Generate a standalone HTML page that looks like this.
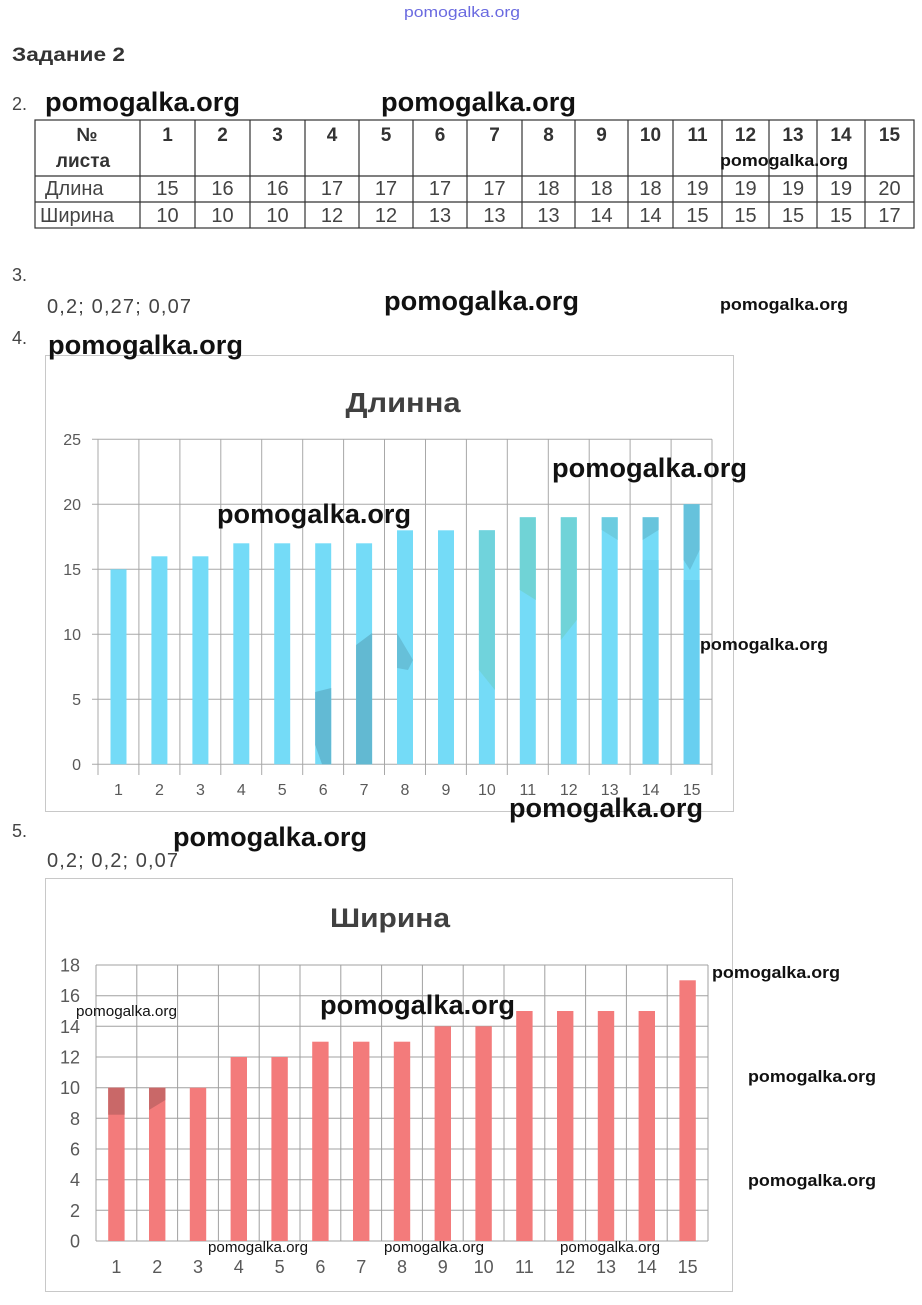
<!DOCTYPE html>
<html><head><meta charset="utf-8"><style>
html,body{margin:0;padding:0;background:#fff;}
svg{display:block;}
.wm{font-family:"Liberation Sans","DejaVu Sans",sans-serif;font-weight:bold;fill:#111;}
.wms{font-family:"Liberation Sans","DejaVu Sans",sans-serif;fill:#111;}
.t{font-family:"Liberation Sans",sans-serif;fill:#444;}
.tb{font-family:"Liberation Sans",sans-serif;font-weight:bold;fill:#333;}
.ax{font-family:"Liberation Sans",sans-serif;fill:#595959;}
.ti{font-family:"Liberation Sans","DejaVu Sans",sans-serif;font-weight:bold;fill:#404040;}
</style></head><body>
<svg width="922" height="1305" viewBox="0 0 922 1305" xmlns="http://www.w3.org/2000/svg">
<rect width="922" height="1305" fill="#fff"/>
<text x="404" y="17" font-family="Liberation Sans, sans-serif" font-size="15" fill="#6a6ae0" textLength="116" lengthAdjust="spacingAndGlyphs">pomogalka.org</text>
<text class="tb" x="12" y="61" font-size="19" textLength="113" lengthAdjust="spacingAndGlyphs">Задание 2</text>

<text class="t" x="12" y="110" font-size="18">2.</text>
<text class="wm" x="45" y="111" font-size="27" textLength="195" lengthAdjust="spacingAndGlyphs">pomogalka.org</text>
<text class="wm" x="381" y="111" font-size="27" textLength="195" lengthAdjust="spacingAndGlyphs">pomogalka.org</text>

<g stroke="#333" stroke-width="1.2" fill="none">
<rect x="35" y="120" width="879" height="108"/>
<line x1="35" y1="176" x2="914" y2="176"/>
<line x1="35" y1="202" x2="914" y2="202"/>
<line x1="140" y1="120" x2="140" y2="228"/>
<line x1="195" y1="120" x2="195" y2="228"/>
<line x1="250" y1="120" x2="250" y2="228"/>
<line x1="305" y1="120" x2="305" y2="228"/>
<line x1="359" y1="120" x2="359" y2="228"/>
<line x1="413" y1="120" x2="413" y2="228"/>
<line x1="467" y1="120" x2="467" y2="228"/>
<line x1="522" y1="120" x2="522" y2="228"/>
<line x1="575" y1="120" x2="575" y2="228"/>
<line x1="628" y1="120" x2="628" y2="228"/>
<line x1="673" y1="120" x2="673" y2="228"/>
<line x1="722" y1="120" x2="722" y2="228"/>
<line x1="769" y1="120" x2="769" y2="228"/>
<line x1="817" y1="120" x2="817" y2="228"/>
<line x1="865" y1="120" x2="865" y2="228"/>
</g>
<g class="tb" font-size="19" text-anchor="middle">
<text x="87" y="141">№</text>
<text x="83" y="167">листа</text>
<text x="167.5" y="141">1</text>
<text x="222.5" y="141">2</text>
<text x="277.5" y="141">3</text>
<text x="332" y="141">4</text>
<text x="386" y="141">5</text>
<text x="440" y="141">6</text>
<text x="494.5" y="141">7</text>
<text x="548.5" y="141">8</text>
<text x="601.5" y="141">9</text>
<text x="650.5" y="141">10</text>
<text x="697.5" y="141">11</text>
<text x="745.5" y="141">12</text>
<text x="793" y="141">13</text>
<text x="841" y="141">14</text>
<text x="889.5" y="141">15</text>
</g>
<g class="t" font-size="20" fill="#4a4a4a">
<text x="45" y="195">Длина</text>
<text x="40" y="222">Ширина</text>
</g>
<g class="t" font-size="20" text-anchor="middle" fill="#4a4a4a">
<text x="167.5" y="195">15</text><text x="222.5" y="195">16</text><text x="277.5" y="195">16</text><text x="332" y="195">17</text><text x="386" y="195">17</text><text x="440" y="195">17</text><text x="494.5" y="195">17</text><text x="548.5" y="195">18</text><text x="601.5" y="195">18</text><text x="650.5" y="195">18</text><text x="697.5" y="195">19</text><text x="745.5" y="195">19</text><text x="793" y="195">19</text><text x="841" y="195">19</text><text x="889.5" y="195">20</text>
<text x="167.5" y="222">10</text><text x="222.5" y="222">10</text><text x="277.5" y="222">10</text><text x="332" y="222">12</text><text x="386" y="222">12</text><text x="440" y="222">13</text><text x="494.5" y="222">13</text><text x="548.5" y="222">13</text><text x="601.5" y="222">14</text><text x="650.5" y="222">14</text><text x="697.5" y="222">15</text><text x="745.5" y="222">15</text><text x="793" y="222">15</text><text x="841" y="222">15</text><text x="889.5" y="222">17</text>
</g>
<text class="wm" x="720" y="166" font-size="17" textLength="128" lengthAdjust="spacingAndGlyphs">pomogalka.org</text>

<text class="t" x="12" y="281" font-size="18">3.</text>
<text class="t" x="47" y="313" font-size="20" fill="#555" textLength="144" lengthAdjust="spacing">0,2; 0,27; 0,07</text>
<text class="wm" x="384" y="310" font-size="27" textLength="195" lengthAdjust="spacingAndGlyphs">pomogalka.org</text>
<text class="wm" x="720" y="310" font-size="17" textLength="128" lengthAdjust="spacingAndGlyphs">pomogalka.org</text>

<text class="t" x="12" y="344" font-size="18">4.</text>

<rect x="45.5" y="355.5" width="688" height="456" fill="#fff" stroke="#c8c8c8" stroke-width="1"/>
<text class="ti" x="403" y="412" font-size="28" text-anchor="middle" textLength="115" lengthAdjust="spacingAndGlyphs">Длинна</text>
<g stroke="#a8a8a8" stroke-width="1">
<line x1="92" y1="439.3" x2="712" y2="439.3"/>
<line x1="92" y1="504.3" x2="712" y2="504.3"/>
<line x1="92" y1="569.3" x2="712" y2="569.3"/>
<line x1="92" y1="634.3" x2="712" y2="634.3"/>
<line x1="92" y1="699.3" x2="712" y2="699.3"/>
<line x1="92" y1="764.3" x2="712" y2="764.3"/>
<line x1="98" y1="439.3" x2="98" y2="775"/>
<line x1="138.9" y1="439.3" x2="138.9" y2="775"/>
<line x1="179.9" y1="439.3" x2="179.9" y2="775"/>
<line x1="220.8" y1="439.3" x2="220.8" y2="775"/>
<line x1="261.7" y1="439.3" x2="261.7" y2="775"/>
<line x1="302.7" y1="439.3" x2="302.7" y2="775"/>
<line x1="343.6" y1="439.3" x2="343.6" y2="775"/>
<line x1="384.5" y1="439.3" x2="384.5" y2="775"/>
<line x1="425.5" y1="439.3" x2="425.5" y2="775"/>
<line x1="466.4" y1="439.3" x2="466.4" y2="775"/>
<line x1="507.3" y1="439.3" x2="507.3" y2="775"/>
<line x1="548.3" y1="439.3" x2="548.3" y2="775"/>
<line x1="589.2" y1="439.3" x2="589.2" y2="775"/>
<line x1="630.1" y1="439.3" x2="630.1" y2="775"/>
<line x1="671.1" y1="439.3" x2="671.1" y2="775"/>
<line x1="712" y1="439.3" x2="712" y2="775"/>
</g>
<g fill="#74dbf7">
<rect x="110.5" y="569.3" width="16" height="195"/>
<rect x="151.4" y="556.3" width="16" height="208"/>
<rect x="192.4" y="556.3" width="16" height="208"/>
<rect x="233.3" y="543.3" width="16" height="221"/>
<rect x="274.2" y="543.3" width="16" height="221"/>
<rect x="315.2" y="543.3" width="16" height="221"/>
<rect x="356.1" y="543.3" width="16" height="221"/>
<rect x="397" y="530.3" width="16" height="234"/>
<rect x="438" y="530.3" width="16" height="234"/>
<rect x="478.9" y="530.3" width="16" height="234"/>
<rect x="519.8" y="517.3" width="16" height="247"/>
<rect x="560.8" y="517.3" width="16" height="247"/>
<rect x="601.7" y="517.3" width="16" height="247"/>
<rect x="642.6" y="517.3" width="16" height="247"/>
<rect x="683.6" y="504.3" width="16" height="260"/>
</g>
<g>
<polygon points="315.2,692 331.2,688 331.2,764.3 322,764.3 315.2,745" fill="#62bad4"/>
<polygon points="356.1,645 372.1,633 372.1,764.3 356.1,764.3" fill="#62b9d2"/>
<polygon points="397,633 413,660 408,670 397,668" fill="#66c0d9"/>
<polygon points="478.9,530.3 494.9,530.3 494.9,690 478.9,670" fill="#70d3dc"/>
<polygon points="519.8,517.3 535.8,517.3 535.8,600 519.8,590" fill="#70d3d6"/>
<polygon points="560.8,517.3 576.8,517.3 576.8,620 560.8,640" fill="#70d3d8"/>
<polygon points="601.7,517.3 617.7,517.3 617.7,540 601.7,530" fill="#6ccce0"/>
<polygon points="642.6,517.3 658.6,517.3 658.6,530 642.6,540" fill="#68c4dc"/>
<polygon points="683.6,504.3 699.6,504.3 699.6,550 690,570 683.6,560" fill="#66c2dc"/>
<rect x="642.6" y="560" width="16" height="204" fill="#6cd4f2"/>
<rect x="683.6" y="580" width="16" height="184" fill="#68cff0"/>
</g>
<g class="ax" font-size="16" text-anchor="end">
<text x="81" y="445">25</text>
<text x="81" y="510">20</text>
<text x="81" y="575">15</text>
<text x="81" y="640">10</text>
<text x="81" y="705">5</text>
<text x="81" y="770">0</text>
</g>
<g class="ax" font-size="16" text-anchor="middle">
<text x="118.5" y="795">1</text><text x="159.4" y="795">2</text><text x="200.4" y="795">3</text><text x="241.3" y="795">4</text><text x="282.2" y="795">5</text><text x="323.2" y="795">6</text><text x="364.1" y="795">7</text><text x="405" y="795">8</text><text x="446" y="795">9</text><text x="486.9" y="795">10</text><text x="527.8" y="795">11</text><text x="568.8" y="795">12</text><text x="609.7" y="795">13</text><text x="650.6" y="795">14</text><text x="691.6" y="795">15</text>
</g>
<text class="wm" x="48" y="354" font-size="27" textLength="195" lengthAdjust="spacingAndGlyphs">pomogalka.org</text>
<text class="wm" x="217" y="523" font-size="27" textLength="194" lengthAdjust="spacingAndGlyphs">pomogalka.org</text>
<text class="wm" x="552" y="477" font-size="27" textLength="195" lengthAdjust="spacingAndGlyphs">pomogalka.org</text>
<text class="wm" x="700" y="650" font-size="17" textLength="128" lengthAdjust="spacingAndGlyphs">pomogalka.org</text>
<text class="wm" x="509" y="817" font-size="27" textLength="194" lengthAdjust="spacingAndGlyphs">pomogalka.org</text>

<text class="t" x="12" y="837" font-size="18">5.</text>
<text class="t" x="47" y="867" font-size="20" fill="#555" textLength="131" lengthAdjust="spacing">0,2; 0,2; 0,07</text>
<text class="wm" x="173" y="846" font-size="27" textLength="194" lengthAdjust="spacingAndGlyphs">pomogalka.org</text>

<rect x="45.5" y="878.5" width="687" height="413" fill="#fff" stroke="#c8c8c8" stroke-width="1"/>
<text class="ti" x="390" y="927" font-size="27" text-anchor="middle" textLength="120" lengthAdjust="spacingAndGlyphs">Ширина</text>
<g stroke="#a0a0a0" stroke-width="1">
<line x1="96" y1="965" x2="708" y2="965"/>
<line x1="96" y1="995.7" x2="708" y2="995.7"/>
<line x1="96" y1="1026.3" x2="708" y2="1026.3"/>
<line x1="96" y1="1057" x2="708" y2="1057"/>
<line x1="96" y1="1087.7" x2="708" y2="1087.7"/>
<line x1="96" y1="1118.3" x2="708" y2="1118.3"/>
<line x1="96" y1="1149" x2="708" y2="1149"/>
<line x1="96" y1="1179.7" x2="708" y2="1179.7"/>
<line x1="96" y1="1210.3" x2="708" y2="1210.3"/>
<line x1="96" y1="1241" x2="708" y2="1241"/>
<line x1="96" y1="965" x2="96" y2="1241"/>
<line x1="136.8" y1="965" x2="136.8" y2="1241"/>
<line x1="177.6" y1="965" x2="177.6" y2="1241"/>
<line x1="218.4" y1="965" x2="218.4" y2="1241"/>
<line x1="259.2" y1="965" x2="259.2" y2="1241"/>
<line x1="300" y1="965" x2="300" y2="1241"/>
<line x1="340.8" y1="965" x2="340.8" y2="1241"/>
<line x1="381.6" y1="965" x2="381.6" y2="1241"/>
<line x1="422.4" y1="965" x2="422.4" y2="1241"/>
<line x1="463.2" y1="965" x2="463.2" y2="1241"/>
<line x1="504" y1="965" x2="504" y2="1241"/>
<line x1="544.8" y1="965" x2="544.8" y2="1241"/>
<line x1="585.6" y1="965" x2="585.6" y2="1241"/>
<line x1="626.4" y1="965" x2="626.4" y2="1241"/>
<line x1="667.2" y1="965" x2="667.2" y2="1241"/>
<line x1="708" y1="965" x2="708" y2="1241"/>
</g>
<g fill="#f37b7b">
<rect x="108.2" y="1087.7" width="16.4" height="153.3"/>
<rect x="149" y="1087.7" width="16.4" height="153.3"/>
<rect x="189.8" y="1087.7" width="16.4" height="153.3"/>
<rect x="230.6" y="1057" width="16.4" height="184"/>
<rect x="271.4" y="1057" width="16.4" height="184"/>
<rect x="312.2" y="1041.7" width="16.4" height="199.3"/>
<rect x="353" y="1041.7" width="16.4" height="199.3"/>
<rect x="393.8" y="1041.7" width="16.4" height="199.3"/>
<rect x="434.6" y="1026.3" width="16.4" height="214.7"/>
<rect x="475.4" y="1026.3" width="16.4" height="214.7"/>
<rect x="516.2" y="1011" width="16.4" height="230"/>
<rect x="557" y="1011" width="16.4" height="230"/>
<rect x="597.8" y="1011" width="16.4" height="230"/>
<rect x="638.6" y="1011" width="16.4" height="230"/>
<rect x="679.4" y="980.3" width="16.4" height="260.7"/>
</g>
<rect x="108.2" y="1087.7" width="16.4" height="27" fill="#c96868"/>
<polygon points="149,1087.7 165.4,1087.7 165.4,1100 149,1110" fill="#c96868"/>
<g class="ax" font-size="18" text-anchor="end">
<text x="80" y="971.5">18</text>
<text x="80" y="1002.2">16</text>
<text x="80" y="1032.8">14</text>
<text x="80" y="1063.5">12</text>
<text x="80" y="1094.2">10</text>
<text x="80" y="1124.8">8</text>
<text x="80" y="1155.5">6</text>
<text x="80" y="1186.2">4</text>
<text x="80" y="1216.8">2</text>
<text x="80" y="1247.5">0</text>
</g>
<g class="ax" font-size="18" text-anchor="middle">
<text x="116.4" y="1273">1</text><text x="157.2" y="1273">2</text><text x="198" y="1273">3</text><text x="238.8" y="1273">4</text><text x="279.6" y="1273">5</text><text x="320.4" y="1273">6</text><text x="361.2" y="1273">7</text><text x="402" y="1273">8</text><text x="442.8" y="1273">9</text><text x="483.6" y="1273">10</text><text x="524.4" y="1273">11</text><text x="565.2" y="1273">12</text><text x="606" y="1273">13</text><text x="646.8" y="1273">14</text><text x="687.6" y="1273">15</text>
</g>
<text class="wms" x="76" y="1016" font-size="15" textLength="101" lengthAdjust="spacingAndGlyphs">pomogalka.org</text>
<text class="wm" x="320" y="1014" font-size="27" textLength="195" lengthAdjust="spacingAndGlyphs">pomogalka.org</text>
<text class="wm" x="712" y="978" font-size="17" textLength="128" lengthAdjust="spacingAndGlyphs">pomogalka.org</text>
<text class="wm" x="748" y="1082" font-size="17" textLength="128" lengthAdjust="spacingAndGlyphs">pomogalka.org</text>
<text class="wm" x="748" y="1186" font-size="17" textLength="128" lengthAdjust="spacingAndGlyphs">pomogalka.org</text>
<text class="wms" x="208" y="1252" font-size="15" textLength="100" lengthAdjust="spacingAndGlyphs">pomogalka.org</text>
<text class="wms" x="384" y="1252" font-size="15" textLength="100" lengthAdjust="spacingAndGlyphs">pomogalka.org</text>
<text class="wms" x="560" y="1252" font-size="15" textLength="100" lengthAdjust="spacingAndGlyphs">pomogalka.org</text>
</svg>
</body></html>
